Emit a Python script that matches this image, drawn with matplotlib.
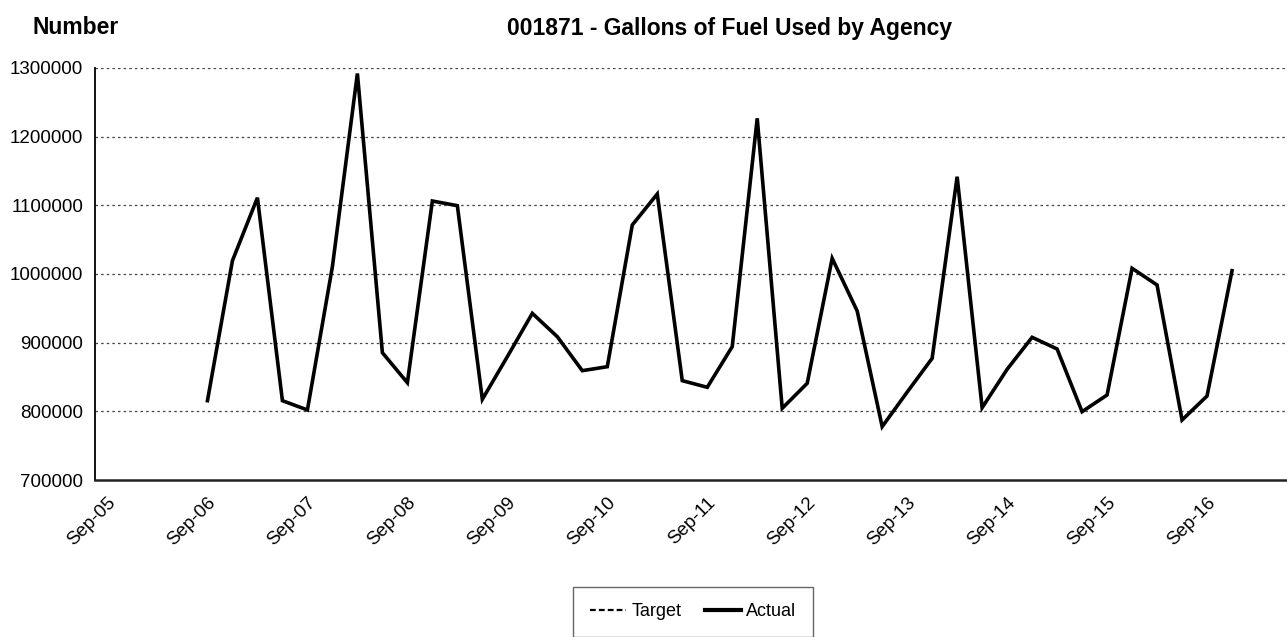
import matplotlib.pyplot as plt
from matplotlib.lines import Line2D
from matplotlib.ticker import StrMethodFormatter

plt.rcParams['font.family'] = ['Liberation Sans', 'DejaVu Sans']

# quarterly values, Sep-06 .. Dec-16
actual = [815500, 1019400, 1111100, 815500, 802000, 1010700, 1292000, 885400,
          841700, 1106300, 1099500, 817500, 879600, 942700, 908700, 859200,
          865000, 1071400, 1116500, 844700, 835000, 894200, 1226700, 804400,
          840800, 1022800, 946100, 777700, 828000, 877200, 1141700, 805300,
          861200, 907800, 890800, 799500, 823800, 1008300, 984000, 787400,
          822300, 1004800]
target = []
tick_labels = ['Sep-05', 'Sep-06', 'Sep-07', 'Sep-08', 'Sep-09', 'Sep-10',
               'Sep-11', 'Sep-12', 'Sep-13', 'Sep-14', 'Sep-15', 'Sep-16']
first_quarter = 4  # Sep-06 counted in quarters from Sep-05

fig = plt.figure(figsize=(12.87, 6.37), dpi=100)
ax = fig.add_axes([95/1287, 1-480/637, 1-95/1287, (480-68)/637])

x = list(range(first_quarter, first_quarter + len(actual)))
ax.plot(x, actual, color='black', lw=2.6, solid_joinstyle='miter')
ax.plot(range(len(target)), target, color='black', lw=1.2, ls='--')

ax.set_xlim(-0.5, 47.2)
ax.set_ylim(700000, 1300000)
ax.set_yticks(range(700000, 1300001, 100000))
ax.yaxis.set_major_formatter(StrMethodFormatter('{x:.0f}'))
ax.set_xticks(range(0, 4*len(tick_labels), 4))
ax.set_xticklabels(tick_labels, rotation=45, ha='right', va='top', rotation_mode='anchor')
ax.tick_params(axis='both', length=0, labelsize=13.5)
ax.tick_params(axis='y', pad=8.5)
ax.tick_params(axis='x', pad=10)

for v in range(800000, 1300001, 100000):
    ax.axhline(v, color='#444444', lw=0.9, ls=(0, (2, 2.5)), zorder=0)

for s in ['top', 'right']:
    ax.spines[s].set_visible(False)
ax.spines['left'].set_linewidth(1.3)
ax.spines['bottom'].set_linewidth(1.8)
ax.spines['bottom'].set_color('#222222')

fig.text(33/1287, 1-28/637, 'Number', fontsize=16.5, fontweight='bold', va='center')
fig.text(730/1287, 1-28/637, '001871 - Gallons of Fuel Used by Agency',
         fontsize=16.5, fontweight='bold', va='center', ha='center')

handles = [Line2D([], [], color='black', lw=1.6, ls=(0, (2.6, 1.4))),
           Line2D([], [], color='black', lw=3.0)]
leg = fig.legend(handles, ['Target', 'Actual'], loc='upper center',
                 bbox_to_anchor=(693/1287, 1-578/637), ncol=2, fontsize=13,
                 fancybox=False, framealpha=1, edgecolor='#666666',
                 handlelength=2.0, handletextpad=0.3, columnspacing=1.3,
                 borderpad=0.9, borderaxespad=0.5)
leg.get_frame().set_linewidth(1.0)

fig.savefig('out.png', dpi=100)
